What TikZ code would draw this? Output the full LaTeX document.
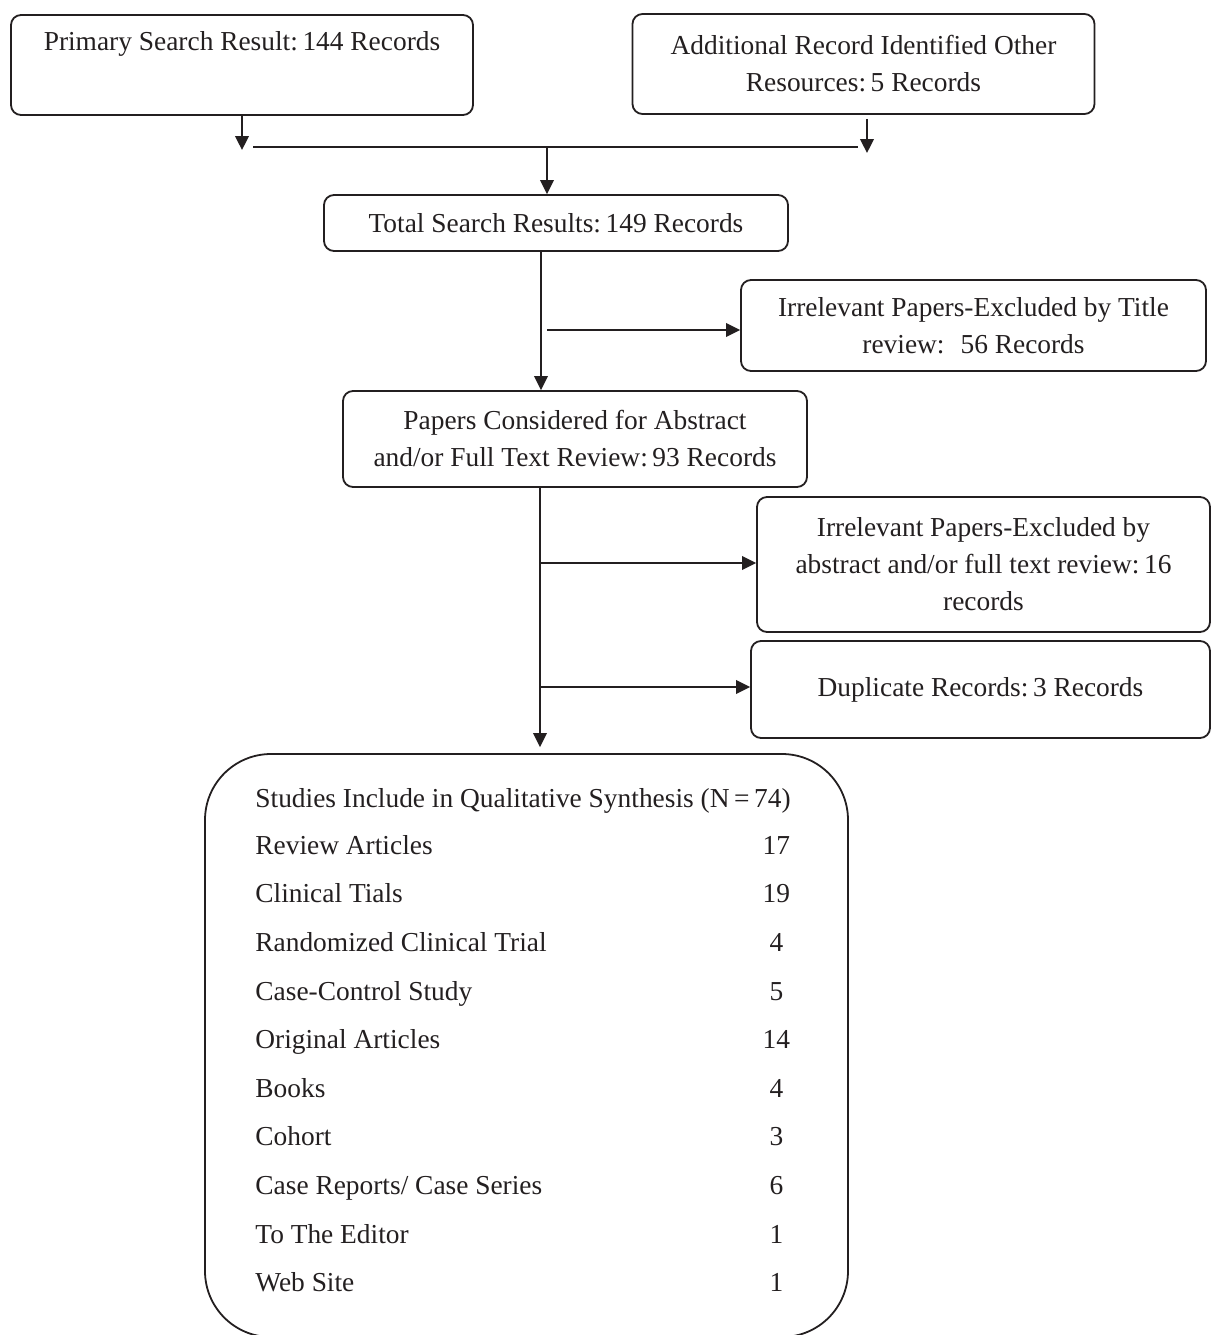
\documentclass[tikz,border=0pt]{standalone}
\usepackage{fontspec}
\setmainfont{Liberation Serif}
\usetikzlibrary{arrows.meta}
\definecolor{ink}{HTML}{231F20}
\begin{document}
\begin{tikzpicture}[x=0.5pt,y=-0.5pt,
  every node/.style={text=ink},
  boxnode/.style={draw=ink, line width=0.9pt, rounded corners=5pt, align=center,
    inner sep=0pt, font=\fontsize{13.7}{18.5}\selectfont},
  arr/.style={draw=ink, line width=0.9pt, -{Triangle[length=7pt,width=6.8pt]}},
  plainline/.style={draw=ink, line width=0.9pt}]
\useasboundingbox (0,0) rectangle (1211,1335);

% boxes
\node[boxnode, minimum width=231pt, minimum height=50pt] (prim) at (242,65)
  {Primary Search Result:\,144 Records\\ \strut};
\node[boxnode, minimum width=231pt, minimum height=50pt] (add) at (863.5,64)
  {Additional Record Identified Other\\ Resources:\,5 Records};
\node[boxnode, minimum width=232pt, minimum height=28pt] (tot) at (556,223)
  {Total Search Results:\,149 Records};
\node[boxnode, minimum width=232.5pt, minimum height=45.5pt] (ttl) at (973.5,325.5)
  {Irrelevant Papers-Excluded by Title\\ review:~ 56 Records};
\node[boxnode, minimum width=232pt, minimum height=48pt] (pap) at (575,439)
  {Papers Considered for Abstract\\ and/or Full Text Review:\,93 Records};
\node[boxnode, minimum width=226.5pt, minimum height=67.5pt] (abs) at (983.5,564.5)
  {Irrelevant Papers-Excluded by\\ abstract and/or full text review:\,16\\ records};
\node[boxnode, minimum width=229.5pt, minimum height=48.5pt] (dup) at (980.5,689.5)
  {Duplicate Records:\,3 Records};
\node[boxnode, rounded corners=33pt, minimum width=321.5pt, minimum height=291.5pt] (studies) at (526.5,1045.5) {};

\node[anchor=base west, inner sep=0pt, align=left] (list) at (255,807)
  {\fontsize{13.7}{24.3}\selectfont
   \begin{tabular}[t]{@{}l@{}}
   Studies Include in Qualitative Synthesis (N\,=\,74)\\[-0.7pt]
   \makebox[253pt][l]{Review Articles}\makebox[15pt]{17}\\
   \makebox[253pt][l]{Clinical Tials}\makebox[15pt]{19}\\
   \makebox[253pt][l]{Randomized Clinical Trial}\makebox[15pt]{4}\\
   \makebox[253pt][l]{Case-Control Study}\makebox[15pt]{5}\\
   \makebox[253pt][l]{Original Articles}\makebox[15pt]{14}\\
   \makebox[253pt][l]{Books}\makebox[15pt]{4}\\
   \makebox[253pt][l]{Cohort}\makebox[15pt]{3}\\
   \makebox[253pt][l]{Case Reports/ Case Series}\makebox[15pt]{6}\\
   \makebox[253pt][l]{To The Editor}\makebox[15pt]{1}\\
   \makebox[253pt][l]{Web Site}\makebox[15pt]{1}
   \end{tabular}};

% junction coordinates
\coordinate (pa) at (242,150);
\coordinate (ab) at (867,153);
\coordinate (hl) at (253,147);
\coordinate (hr) at (858,147);
\coordinate (hm) at (547,147);
\coordinate (t1) at (541,330);
\coordinate (b1) at (547,330);
\coordinate (t2) at (540,563);
\coordinate (t3) at (540,687);

% connectors
\draw[arr] (prim.south -| pa) -- (pa);
\draw[arr] ([yshift=-2pt]add.south -| ab) -- (ab);
\draw[plainline] (hl) -- (hr);
\draw[arr] (hm) -- (hm |- tot.north);
\draw[arr] (tot.south -| t1) -- (pap.north -| t1);
\draw[arr] (b1) -- (b1 -| ttl.west);
\draw[arr, shorten >=3pt] (pap.south -| t2) -- (studies.north -| t2);
\draw[arr] (t2) -- (t2 -| abs.west);
\draw[arr] (t3) -- (t3 -| dup.west);
\end{tikzpicture}
\end{document}
